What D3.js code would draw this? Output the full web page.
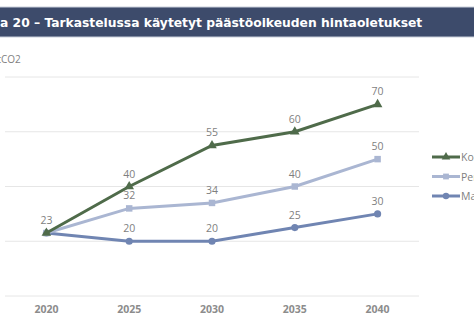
<!DOCTYPE html>
<html>
<head>
<meta charset="utf-8">
<script src="https://cdn.jsdelivr.net/npm/d3@7"></script>
<style>
  body { margin: 0; background: #fff; overflow: hidden; }
  svg { display: block; }
</style>
</head>
<body>
<div id="chart"></div>
<script>
const years = ["2020", "2025", "2030", "2035", "2040"];
const korkea = [23, 40, 55, 60, 70];
const perus = [23, 32, 34, 40, 50];
const matala = [23, 20, 20, 25, 30];
const yTicks = [0, 20, 40, 60, 80];
const seriesNames = ["Korkea", "Perus", "Matala"];

const width = 474;
const height = 324;

const svg = d3.select("#chart")
  .append("svg")
  .attr("width", width)
  .attr("height", height);

// title banner
svg.append("rect")
  .attr("x", -2).attr("y", 7)
  .attr("width", width + 4).attr("height", 30)
  .attr("fill", "#3d4b6b")
  .attr("stroke", "#c9cfdb")
  .attr("stroke-width", 1);

svg.append("text")
  .attr("x", 0).attr("y", 27)
  .attr("fill", "#fff")
  .attr("font-family", "DejaVu Sans, Verdana, sans-serif")
  .attr("font-weight", "bold")
  .attr("font-size", 12.3)
  .text("a 20 – Tarkastelussa käytetyt päästöoikeuden hintaoletukset");

// unit label (partly cut at the left edge like in the source)
svg.append("text")
  .attr("x", 1).attr("y", 63)
  .attr("text-anchor", "start")
  .attr("fill", "#7f7f7f")
  .attr("font-family", "Open Sans, sans-serif")
  .attr("font-size", 10)
  .text("CO2")
  .clone(true)
  .attr("text-anchor", "end")
  .text("€/t");

const x = d3.scalePoint()
  .domain(years)
  .range([5, 419])
  .padding(0.5);

const y = d3.scaleLinear()
  .domain([0, 80])
  .range([296, 77]);

// gridlines
svg.append("g")
  .selectAll("line")
  .data(yTicks)
  .join("line")
  .attr("x1", 5).attr("x2", 419)
  .attr("y1", d => y(d)).attr("y2", d => y(d))
  .attr("stroke", "#e6e6e6")
  .attr("stroke-width", 1);

// x axis labels
svg.append("g")
  .selectAll("text")
  .data(years)
  .join("text")
  .attr("x", d => x(d))
  .attr("y", 313)
  .attr("text-anchor", "middle")
  .attr("fill", "#8c8c8c")
  .attr("font-family", "Open Sans, sans-serif")
  .attr("font-weight", "bold")
  .attr("font-size", 10.5)
  .text(d => d);

const series = [
  { name: seriesNames[0], values: korkea, color: "#4f6b4a", shape: d3.symbolTriangle, size: 40 },
  { name: seriesNames[1], values: perus, color: "#aab6d2", shape: d3.symbolSquare, size: 42 },
  { name: seriesNames[2], values: matala, color: "#7085b2", shape: d3.symbolCircle, size: 40 }
];

const line = d3.line()
  .x((d, i) => x(years[i]))
  .y(d => y(d));

// draw from back to front: matala, perus, korkea
series.slice().reverse().forEach(s => {
  const g = svg.append("g");
  g.append("path")
    .datum(s.values)
    .attr("d", line)
    .attr("fill", "none")
    .attr("stroke", s.color)
    .attr("stroke-width", 3);
  g.selectAll("path.m")
    .data(s.values)
    .join("path")
    .attr("class", "m")
    .attr("transform", (d, i) => `translate(${x(years[i])},${y(d)})`)
    .attr("d", d3.symbol().type(s.shape).size(s.size))
    .attr("fill", s.color);
});

// data labels (first point shared, labelled once)
series.forEach(s => {
  svg.append("g")
    .selectAll("text")
    .data(s.values.map((v, i) => ({ v, i })).filter(d => s.name === "Korkea" || d.i > 0))
    .join("text")
    .attr("x", d => x(years[d.i]))
    .attr("y", d => y(d.v) - 9)
    .attr("text-anchor", "middle")
    .attr("fill", "#7f7f7f")
    .attr("font-family", "Open Sans, sans-serif")
    .attr("font-size", 10.5)
    .text(d => d.v);
});

// legend
const legend = svg.append("g")
  .selectAll("g")
  .data(series)
  .join("g")
  .attr("transform", (d, i) => `translate(432,${157 + i * 19.5})`);

legend.append("line")
  .attr("x1", 0).attr("x2", 28)
  .attr("stroke", d => d.color)
  .attr("stroke-width", 3);

legend.append("path")
  .attr("transform", "translate(14,0)")
  .attr("d", d => d3.symbol().type(d.shape).size(d.size * 0.8)())
  .attr("fill", d => d.color);

legend.append("text")
  .attr("x", 29).attr("y", 4)
  .attr("fill", "#7f7f7f")
  .attr("font-family", "Open Sans, sans-serif")
  .attr("font-size", 10.5)
  .text(d => d.name);
</script>
</body>
</html>
